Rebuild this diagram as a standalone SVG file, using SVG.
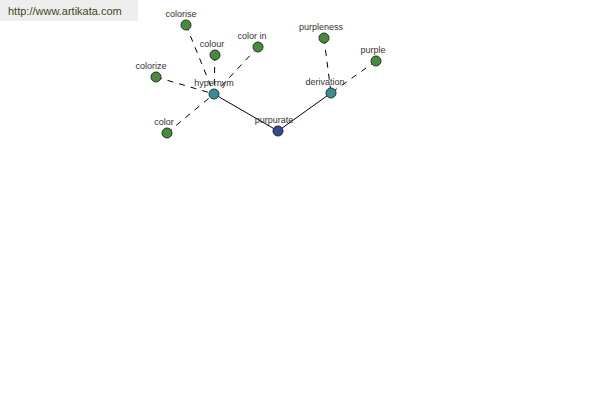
<svg xmlns="http://www.w3.org/2000/svg" width="600" height="400" viewBox="0 0 600 400">
<style>
.lbl{font-family:"Liberation Sans",Arial,sans-serif;font-size:9px;fill:#333;text-anchor:middle}
.leaf{fill:#4a8a3e;stroke:#1e3a1e;stroke-width:1}
.hub{fill:#3a8e92;stroke:#1e3a3e;stroke-width:1}
.root{fill:#3a468e;stroke:#1e1e3e;stroke-width:1}
.dash{stroke:#000;stroke-width:1;stroke-dasharray:6,6;fill:none}
.solid{stroke:#000;stroke-width:1;fill:none}
</style>
<rect width="600" height="400" fill="#fff"/>
<rect x="0" y="0" width="138" height="21" fill="#eeeeee"/>
<text x="8" y="15" font-family="Liberation Sans,Arial,sans-serif" font-size="11" fill="#3a4a20">http://www.artikata.com</text>
<g id="connectors">
<line class="dash" x1="186" y1="25" x2="214" y2="94"/>
<line class="dash" x1="215" y1="55" x2="214" y2="94"/>
<line class="dash" x1="258" y1="47" x2="214" y2="94"/>
<line class="dash" x1="156" y1="77" x2="214" y2="94"/>
<line class="dash" x1="167" y1="133" x2="214" y2="94"/>
<line class="dash" x1="324" y1="38" x2="331" y2="93"/>
<line class="dash" x1="376" y1="61" x2="331" y2="93"/>
<line class="solid" x1="214" y1="94" x2="278" y2="131"/>
<line class="solid" x1="331" y1="93" x2="278" y2="131"/>
</g>
<g id="hypernym"><circle class="hub" cx="214" cy="94" r="5"/><text class="lbl" x="214" y="86">hypernym</text></g>
<g id="derivation"><circle class="hub" cx="331" cy="93" r="5"/><text class="lbl" x="325" y="85">derivation</text></g>
<g id="purpurate"><circle class="root" cx="278" cy="131" r="5"/><text class="lbl" x="274" y="123">purpurate</text></g>
<g id="colorise"><circle class="leaf" cx="186" cy="25" r="5"/><text class="lbl" x="181" y="17">colorise</text></g>
<g id="colour"><circle class="leaf" cx="215" cy="55" r="5"/><text class="lbl" x="212" y="47">colour</text></g>
<g id="color-in"><circle class="leaf" cx="258" cy="47" r="5"/><text class="lbl" x="252" y="39">color in</text></g>
<g id="colorize"><circle class="leaf" cx="156" cy="77" r="5"/><text class="lbl" x="151" y="69">colorize</text></g>
<g id="color"><circle class="leaf" cx="167" cy="133" r="5"/><text class="lbl" x="164" y="125">color</text></g>
<g id="purpleness"><circle class="leaf" cx="324" cy="38" r="5"/><text class="lbl" x="321" y="30">purpleness</text></g>
<g id="purple"><circle class="leaf" cx="376" cy="61" r="5"/><text class="lbl" x="373" y="53">purple</text></g>
</svg>
